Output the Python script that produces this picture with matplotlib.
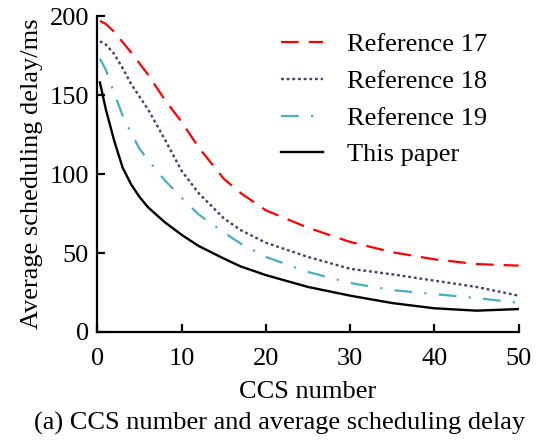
import matplotlib
matplotlib.use("Agg")
import matplotlib.pyplot as plt

# values
ccs = [0.3, 1, 2, 3, 4, 5, 6, 8, 10, 12, 15, 17, 20, 25, 30, 35, 40, 45, 50]
ref17 = [197, 195, 190, 183.5, 177, 170, 163, 147, 133, 117, 97, 88, 77, 66, 57, 50.5, 46, 43, 42]
ref18 = [184, 182, 176, 167, 157, 149, 141, 122, 102, 88, 72, 64.5, 56.5, 47.5, 40, 36.5, 32.5, 28.5, 23]
ref19 = [173, 166, 151, 137, 126, 116, 109, 96, 85, 74.5, 63, 56, 47.5, 38, 31, 26.5, 24, 21.5, 18.5]
this_paper = [158, 141, 121, 104, 93.5, 85.5, 79, 69.5, 61.5, 54.5, 46.5, 41.5, 36, 28.5, 23, 18.3, 15, 13.5, 14.5]

labels = ["Reference 17", "Reference 18", "Reference 19", "This paper"]
x_ticks = [0, 10, 20, 30, 40, 50]
y_ticks = [0, 50, 100, 150, 200]

plt.rcParams["font.family"] = ["Liberation Serif", "DejaVu Serif"]
plt.rcParams["font.size"] = 19

fig = plt.figure(figsize=(5.38, 4.4), dpi=100)
ax = fig.add_axes([0.181, 0.2455, 0.783, 0.718])

ax.plot(ccs, ref17, color="#ff0000", lw=1.6, dashes=(8, 4.5), label=labels[0])
ax.plot(ccs, ref18, color="#4e3d6e", lw=1.7, dashes=(1.2, 1.2), label=labels[1])
ax.plot(ccs, ref19, color="#4bacc6", lw=1.6, dashes=(8, 5.5, 1, 5.5), label=labels[2])
ax.plot(ccs, this_paper, color="black", lw=1.7, label=labels[3])

ax.set_xlim(0, 50)
ax.set_ylim(0, 200)
ax.set_xticks(x_ticks)
ax.set_yticks(y_ticks)
ax.spines["top"].set_visible(False)
ax.spines["right"].set_visible(False)
for s in ("left", "bottom"):
    ax.spines[s].set_linewidth(1.6)
ax.tick_params(direction="in", length=5.5, width=1.6)
ax.tick_params(axis="x", pad=11.5)
ax.tick_params(axis="y", pad=6)

ax.set_xlabel("CCS number", labelpad=8)
ax.set_ylabel("Average scheduling delay/ms", labelpad=5)

fig.legend(loc="upper left", bbox_to_anchor=(281 / 538, 1 - 33 / 440),
           frameon=False, borderpad=0, borderaxespad=0,
           handlelength=1.6, handletextpad=0.9, labelspacing=0.5)

fig.text(0.52, 1 - 430 / 440, "(a) CCS number and average scheduling delay",
         ha="center", va="baseline")

fig.savefig("out.png", dpi=100)
